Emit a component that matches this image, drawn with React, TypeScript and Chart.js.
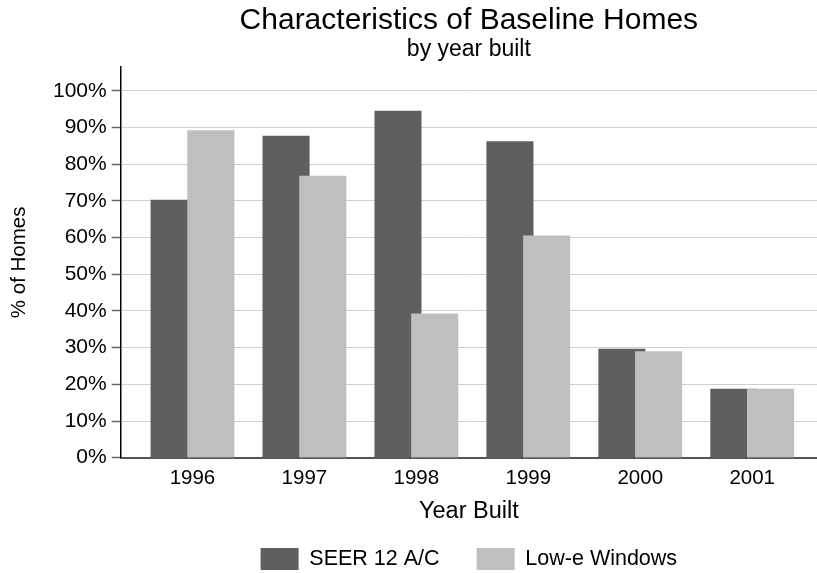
import React, { useEffect, useRef } from "react";
import { Chart, registerables } from "chart.js";

Chart.register(...registerables);

// ---- data ----
const TITLE = "Characteristics of Baseline Homes";
const SUBTITLE = "by year built";
const X_TITLE = "Year Built";
const Y_TITLE = "% of Homes";
const YEARS = ["1996", "1997", "1998", "1999", "2000", "2001"];
const SERIES_NAMES = ["SEER 12 A/C", "Low-e Windows"];
const SEER_12_AC = [70.2, 87.7, 94.5, 86.2, 29.6, 18.7];
const LOW_E_WINDOWS = [89.2, 76.8, 39.2, 60.5, 28.9, 18.7];
const Y_TICK_STEP = 10;
const Y_TICK_MAX = 100;

// ---- style / layout ----
const FONT = "'Liberation Sans', Arial, Helvetica, sans-serif";
const DARK = "#5f5f5f";
const LIGHT = "#bfbfbf";
const BAR_SHIFT = 0.164; // half distance between the two bars of a year, in category units
const X_MIN = -0.641;
const X_MAX = 5.579;
const Y_MAX = 106.5;

export default function App() {
  const ref = useRef<HTMLCanvasElement | null>(null);

  useEffect(() => {
    if (!ref.current) return;
    const toPoints = (vals: number[], shift: number) =>
      vals.map((v, i) => ({ x: i + shift, y: v }));

    const chart = new Chart(ref.current, {
      type: "bar",
      data: {
        datasets: [
          {
            label: SERIES_NAMES[0],
            data: toPoints(SEER_12_AC, -BAR_SHIFT),
            backgroundColor: DARK,
            borderWidth: 0,
            grouped: false,
            barThickness: 46.4,
            order: 1,
          },
          {
            label: SERIES_NAMES[1],
            data: toPoints(LOW_E_WINDOWS, BAR_SHIFT),
            backgroundColor: LIGHT,
            borderWidth: 0,
            grouped: false,
            barThickness: 46.4,
            order: 0,
          },
        ],
      } as any,
      options: {
        responsive: false,
        animation: false,
        events: [],
        layout: { padding: 0 },
        plugins: {
          title: {
            display: true,
            text: TITLE,
            color: "#000",
            fullSize: false,
            font: { family: FONT, size: 30, weight: "normal", lineHeight: 1 },
            padding: { top: 6, bottom: 0 },
          },
          subtitle: {
            display: true,
            text: SUBTITLE,
            color: "#000",
            fullSize: false,
            font: { family: FONT, size: 23, weight: "normal", lineHeight: 1 },
            padding: { top: 1.8, bottom: 6.2 },
          },
          legend: {
            display: true,
            position: "bottom",
            fullSize: false,
            maxHeight: 62,
            labels: {
              color: "#000",
              font: { family: FONT, size: 21.5 },
              boxWidth: 38,
              boxHeight: 22,
              padding: 37,
              sort: (a: any, b: any) => a.datasetIndex - b.datasetIndex,
            },
          },
          tooltip: { enabled: false },
        },
        scales: {
          x: {
            type: "linear",
            min: X_MIN,
            max: X_MAX,
            offset: false,
            grid: { display: false, drawTicks: false, offset: false },
            border: { display: true, color: "#555", width: 2 },
            ticks: {
              stepSize: 1,
              includeBounds: false,
              color: "#000",
              font: { family: FONT, size: 20.5, lineHeight: 1.2 },
              padding: 8.4,
              maxRotation: 0,
              autoSkip: false,
              callback: (v: any) => {
                const n = Number(v);
                return Number.isInteger(n) && YEARS[n] !== undefined ? YEARS[n] : "";
              },
            },
            title: {
              display: true,
              text: X_TITLE,
              color: "#000",
              font: { family: FONT, size: 23.5, lineHeight: 1 },
              padding: { top: 0, bottom: -11.8 },
            },
            afterFit: (scale: any) => {
              scale.height = 53.3;
            },
          },
          y: {
            type: "linear",
            min: 0,
            max: Y_MAX,
            grid: {
              color: "#d0d0d0",
              lineWidth: 1,
              drawTicks: true,
              tickLength: 9,
              tickColor: "#666",
              tickWidth: 1.5,
            },
            border: { display: true, color: "#000", width: 1.5 },
            ticks: {
              stepSize: Y_TICK_STEP,
              includeBounds: false,
              color: "#000",
              font: { family: FONT, size: 21, lineHeight: 1.2 },
              padding: 5,
              callback: (v: any) => (Number(v) <= Y_TICK_MAX ? `${v}%` : ""),
            },
            title: {
              display: true,
              text: Y_TITLE,
              color: "#000",
              font: { family: FONT, size: 20.5, lineHeight: 1.2 },
              padding: { top: 7, bottom: 0 },
            },
            afterFit: (scale: any) => {
              scale.width = 120.7;
            },
          },
        },
      } as any,
    });
    return () => chart.destroy();
  }, []);

  return (
    <div
      style={{
        position: "fixed",
        left: 0,
        top: 0,
        width: 817,
        height: 573,
        background: "#fff",
      }}
    >
      <canvas ref={ref} width={817} height={573} style={{ display: "block" }} />
    </div>
  );
}
